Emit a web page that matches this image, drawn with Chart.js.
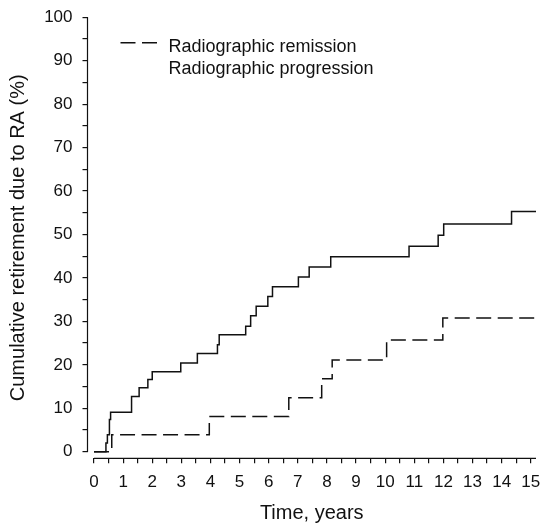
<!DOCTYPE html>
<html>
<head>
<meta charset="utf-8">
<script src="https://cdn.jsdelivr.net/npm/chart.js@4/dist/chart.umd.min.js"></script>
<style>
  html, body { margin: 0; padding: 0; background: #ffffff; }
  #wrap { width: 541px; height: 526px; }
</style>
</head>
<body>
<div id="wrap"><canvas id="c" width="541" height="526"></canvas></div>
<script>
// ---- Data ----
const progressionLabel = 'Radiographic progression';
const progressionTimes = [0, 0.41, 0.46, 0.53, 0.57, 1.29, 1.55, 1.85, 2.00, 2.98, 3.55, 4.24, 4.30, 5.21, 5.38, 5.57, 5.97, 6.13, 7.02, 7.39, 8.13, 10.82, 11.82, 12.01, 14.34, 15.18];
const progressionValues = [0, 2.0, 3.9, 7.4, 9.1, 12.7, 14.7, 16.6, 18.4, 20.4, 22.6, 24.6, 26.9, 28.9, 31.3, 33.5, 35.7, 38.0, 40.2, 42.5, 44.9, 47.3, 49.8, 52.4, 55.3, 55.3];

const remissionLabel = 'Radiographic remission';
const remissionTimes = [0, 0.61, 3.96, 6.69, 7.82, 8.18, 10.05, 11.98, 15.18];
const remissionValues = [0, 3.9, 8.1, 12.4, 16.8, 21.1, 25.7, 30.8, 30.8];

const xTickLabels = ['0','1','2','3','4','5','6','7','8','9','10','11','12','13','14','15'];
const yTickLabels = ['0','10','20','30','40','50','60','70','80','90','100'];
const xTitle = 'Time, years';
const yTitle = 'Cumulative retirement due to RA (%)';

// ---- Build chart ----
const toPoints = (xs, ys) => xs.map((x, i) => ({ x: x, y: ys[i] }));
const FONT = "'Liberation Sans', Arial, Helvetica, sans-serif";
const INK = '#111111';

// major ticks from labels, with a minor tick halfway between
const xMajor = xTickLabels.map(Number);
const yMajor = yTickLabels.map(Number);
const xTickValues = [];
xMajor.forEach((v, i) => { xTickValues.push(v); if (i < xMajor.length - 1) xTickValues.push((v + xMajor[i + 1]) / 2); });
const yTickValues = [];
yMajor.forEach((v, i) => { yTickValues.push(v); if (i < yMajor.length - 1) yTickValues.push((v + yMajor[i + 1]) / 2); });

const axesAndLegend = {
  id: 'axesAndLegend',
  afterDraw(chart) {
    const ctx = chart.ctx;
    const a = chart.chartArea;
    const xs = chart.scales.x, ys = chart.scales.y;
    ctx.save();
    ctx.strokeStyle = INK;
    ctx.lineWidth = 1.2;
    ctx.setLineDash([]);
    // y axis line: from 0 to 100
    ctx.beginPath();
    ctx.moveTo(a.left, ys.getPixelForValue(yMajor[yMajor.length - 1]));
    ctx.lineTo(a.left, ys.getPixelForValue(yMajor[0]));
    ctx.stroke();
    // x axis line: from 0 to end
    ctx.beginPath();
    ctx.moveTo(xs.getPixelForValue(xMajor[0]), a.bottom);
    ctx.lineTo(a.right, a.bottom);
    ctx.stroke();

    // legend inside plot, top-left
    const rows = [chart.data.datasets[0], chart.data.datasets[1]];
    ctx.font = '18px ' + FONT;
    ctx.fillStyle = INK;
    ctx.textBaseline = 'alphabetic';
    ctx.textAlign = 'left';
    rows.forEach((ds, i) => {
      const baseY = a.top + 34.5 + i * 22.5;
      if (ds.legendSample !== false) {
        ctx.strokeStyle = ds.borderColor;
        ctx.lineWidth = ds.borderWidth;
        ctx.setLineDash(ds.borderDash || []);
        ctx.beginPath();
        ctx.moveTo(a.left + 33, baseY - 9);
        ctx.lineTo(a.left + 73, baseY - 9);
        ctx.stroke();
        ctx.setLineDash([]);
      }
      ctx.fillText(ds.label, a.left + 81, baseY);
    });
    ctx.restore();
  }
};

new Chart(document.getElementById('c'), {
  type: 'line',
  data: {
    datasets: [
      {
        label: remissionLabel,
        data: toPoints(remissionTimes, remissionValues),
        borderColor: INK,
        borderWidth: 1.5,
        borderDash: [15, 6.5],
        stepped: 'before',
        pointRadius: 0,
        fill: false
      },
      {
        label: progressionLabel,
        data: toPoints(progressionTimes, progressionValues),
        borderColor: INK,
        borderWidth: 1.5,
        stepped: 'before',
        pointRadius: 0,
        fill: false,
        legendSample: false
      }
    ]
  },
  options: {
    responsive: false,
    animation: false,
    devicePixelRatio: 1,
    layout: { padding: { top: 17.3, right: 5, left: 0, bottom: 0 } },
    plugins: { legend: { display: false }, tooltip: { enabled: false } },
    scales: {
      x: {
        type: 'linear',
        min: -0.223,
        max: 15.18,
        afterBuildTicks: (s) => { s.ticks = xTickValues.map(v => ({ value: v })); },
        afterFit: (s) => { s.height = 67.7; s.paddingLeft = 0; s.paddingRight = 0; },
        border: { display: false },
        grid: { display: true, drawOnChartArea: false, drawTicks: true, tickLength: 5, color: INK, lineWidth: 1.2 },
        ticks: {
          autoSkip: false, maxRotation: 0, minRotation: 0, padding: 9,
          color: INK, font: { family: FONT, size: 17 },
          callback: (v) => { const i = xMajor.indexOf(v); return i >= 0 ? xTickLabels[i] : ''; }
        },
        title: { display: true, text: xTitle, color: INK, font: { family: FONT, size: 20 }, padding: { top: 0, bottom: 1 } }
      },
      y: {
        type: 'linear',
        min: -1.52,
        max: 100,
        afterBuildTicks: (s) => { s.ticks = yTickValues.map(v => ({ value: v })); },
        afterFit: (s) => { s.width = 87.5; s.paddingTop = 0; s.paddingBottom = 0; },
        border: { display: false },
        grid: { display: true, drawOnChartArea: false, drawTicks: true, tickLength: 5, color: INK, lineWidth: 1.2 },
        ticks: {
          autoSkip: false, padding: 10,
          color: INK, font: { family: FONT, size: 17 },
          callback: (v) => { const i = yMajor.indexOf(v); return i >= 0 ? yTickLabels[i] : ''; }
        },
        title: { display: true, text: yTitle, color: INK, font: { family: FONT, size: 20 }, padding: { top: 6, bottom: 0 } }
      }
    }
  },
  plugins: [axesAndLegend]
});
</script>
</body>
</html>
